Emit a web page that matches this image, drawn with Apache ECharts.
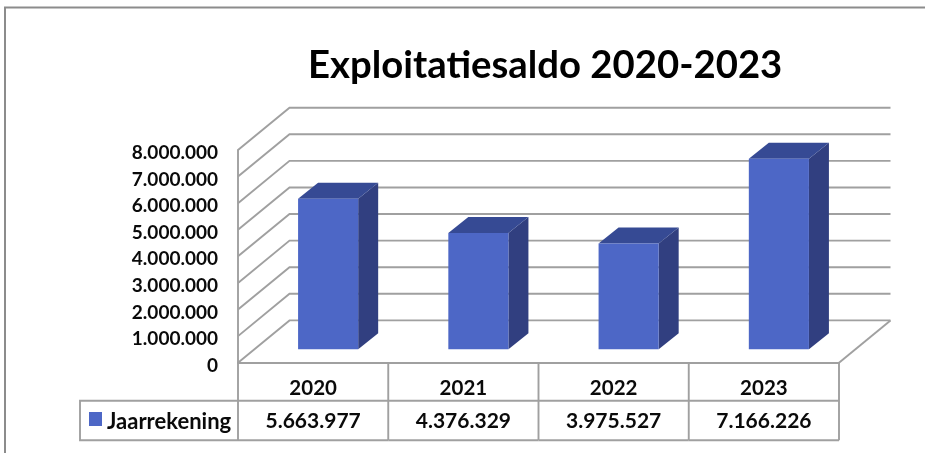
<!DOCTYPE html>
<html>
<head>
<meta charset="utf-8">
<style>html,body{margin:0;padding:0;background:#fff}#c{width:925px;height:453px}</style>
<script src="https://cdn.jsdelivr.net/npm/echarts@6/dist/echarts.min.js"></script>
</head>
<body>
<div id="c"></div>
<script>
const categories = ['2020', '2021', '2022', '2023'];
const values = [5663977, 4376329, 3975527, 7166226];
const yTicks = [0, 1000000, 2000000, 3000000, 4000000, 5000000, 6000000, 7000000, 8000000];
const seriesName = 'Jaarrekening';
const titleText = 'Exploitatiesaldo 2020-2023';

const FONT = 'Lato';
const LINE = '#a0a0a0';
const INK = '#0a0a0a';
const FRONT = '#4d67c6', TOP = '#364a94', SIDE = '#313f80';
const WALL_DX = 51.5, WALL_DY = 42.3;   // depth of the 3D box
const BAR_INSET_DX = 15, BAR_INSET_DY = 13.4; // bar front plane behind the box's front edge
const BAR_DX = 20, BAR_DY = 16;         // depth of a bar
const ROW1 = 38, ROW2 = 77.5;           // table rows under the floor
const LEGEND_LEFT = 80;

const fmt = v => String(v).replace(/\B(?=(\d{3})+(?!\d))/g, '.');
const lineStyle = { stroke: LINE, lineWidth: 1.9, fill: null };

const chart = echarts.init(document.getElementById('c'), null, { renderer: 'canvas' });
chart.setOption({
  animation: false,
  backgroundColor: '#fff',
  title: {
    text: titleText, left: 303, top: 42,
    textStyle: { fontFamily: FONT, fontWeight: 'bold', fontSize: 38.3, color: '#000' }
  },
  legend: {
    data: [seriesName], left: 89, top: 410.5, padding: 0, itemWidth: 13, itemHeight: 14, itemGap: 0,
    icon: 'rect', selectedMode: false,
    formatter: '{t|{name}}',
    textStyle: { rich: { t: { fontFamily: FONT, fontWeight: 'bold', fontSize: 22, color: INK, padding: [5, 0, 0, 0] } } }
  },
  grid: { left: 238, right: 86, top: 150, bottom: 90.3 },
  xAxis: {
    type: 'category', data: categories,
    axisTick: { show: false },
    axisLine: { show: true, lineStyle: { color: LINE, width: 1.9 } },
    axisLabel: { fontFamily: FONT, fontWeight: 'bold', fontSize: 20.5, color: INK, margin: 15 }
  },
  yAxis: {
    type: 'value', min: 0, max: 8000000, interval: 1000000,
    splitLine: { show: false },
    axisTick: { show: false },
    axisLine: { show: true, lineStyle: { color: LINE, width: 1.9 } },
    axisLabel: { margin: 20, formatter: v => '{v|' + fmt(v) + '}',
      rich: { v: { fontFamily: FONT, fontWeight: 'bold', fontSize: 19, color: INK, padding: [6, 0, 0, 0] } } }
  },
  series: [
    { // walls and floor
      type: 'custom', silent: true, clip: false, z: 1,
      data: yTicks.map(v => [0, v]),
      encode: { y: 1 },
      renderItem(params, api) {
        const cs = params.coordSys, y = api.coord([0, api.value(1)])[1];
        const L = cs.x, R = cs.x + cs.width;
        const children = [{ type: 'polyline', shape: { points: [[L, y], [L + WALL_DX, y - WALL_DY], [R + WALL_DX, y - WALL_DY]] }, style: lineStyle }];
        if (api.value(1) === 0) {
          children.push({ type: 'line', shape: { x1: R, y1: y, x2: R + WALL_DX, y2: y - WALL_DY }, style: lineStyle });
        }
        return { type: 'group', children };
      }
    },
    { // bars
      name: seriesName, type: 'custom', clip: false, z: 3,
      itemStyle: { color: FRONT },
      data: values.map((v, i) => [i, v]),
      encode: { x: 0, y: 1 },
      renderItem(params, api) {
        const top = api.coord([api.value(0), api.value(1)]);
        const base = api.coord([api.value(0), 0]);
        const w = api.size([1, 0])[0] * 0.4;
        const x0 = top[0] + BAR_INSET_DX - w / 2, x1 = x0 + w;
        const yT = top[1] - BAR_INSET_DY, yB = base[1] - BAR_INSET_DY;
        return { type: 'group', children: [
          { type: 'polygon', shape: { points: [[x1, yT], [x1 + BAR_DX, yT - BAR_DY], [x1 + BAR_DX, yB - BAR_DY], [x1, yB]] }, style: { fill: SIDE } },
          { type: 'polygon', shape: { points: [[x0, yT], [x0 + BAR_DX, yT - BAR_DY], [x1 + BAR_DX, yT - BAR_DY], [x1, yT]] }, style: { fill: TOP } },
          { type: 'rect', shape: { x: x0, y: yT, width: w, height: yB - yT }, style: { fill: FRONT } }
        ] };
      }
    },
    { // data table
      type: 'custom', silent: true, clip: false, z: 2,
      data: values.map((v, i) => [i, v]),
      encode: { x: 0 },
      renderItem(params, api) {
        const i = api.value(0);
        const cw = api.size([1, 0])[0];
        const cx = api.coord([i, 0])[0], yA = api.coord([i, 0])[1];
        const x0 = cx - cw / 2, x1 = cx + cw / 2;
        const y1 = yA + ROW1, y2 = yA + ROW2;
        const children = [
          { type: 'line', shape: { x1: x1, y1: yA, x2: x1, y2: y2 }, style: lineStyle },
          { type: 'line', shape: { x1: x0, y1: y1, x2: x1, y2: y1 }, style: lineStyle },
          { type: 'line', shape: { x1: x0, y1: y2, x2: x1, y2: y2 }, style: lineStyle },
          { type: 'text', style: { x: cx, y: (y1 + y2) / 2 + 1, text: fmt(api.value(1)), align: 'center', verticalAlign: 'middle',
              fontFamily: FONT, fontWeight: 'bold', fontSize: 21, fill: INK } }
        ];
        if (i === 0) {
          children.push(
            { type: 'line', shape: { x1: x0, y1: yA, x2: x0, y2: y2 }, style: lineStyle },
            { type: 'polyline', shape: { points: [[x0, y1], [LEGEND_LEFT, y1], [LEGEND_LEFT, y2], [x0, y2]] }, style: lineStyle }
          );
        }
        return { type: 'group', children };
      }
    }
  ],
  graphic: [
    { type: 'polyline', silent: true, shape: { points: [[925, 7.5], [5, 7.5], [5, 453]] }, style: { stroke: '#8c8c8c', lineWidth: 2, fill: null } }
  ]
});
</script>
</body>
</html>
